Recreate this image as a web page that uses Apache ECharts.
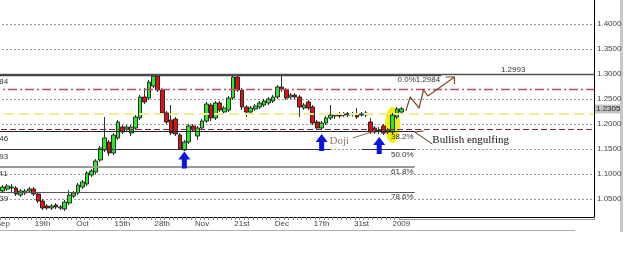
<!DOCTYPE html>
<html>
<head>
<meta charset="utf-8">
<script src="https://cdn.jsdelivr.net/npm/echarts@6/dist/echarts.min.js"></script>
<style>
  html, body { margin: 0; padding: 0; background: #fff; }
  #chart { width: 625px; height: 253px; }
</style>
</head>
<body>
<div id="chart"></div>
<script>
// daily candles, first one sits on category 6
const categoryCount = 140
const firstCandle = 6
const dateLabels = ['Sep', '19th', 'Oct', '15th', '28th', 'Nov', '21st', 'Dec', '17th', '31st', '2009']

const opens = [1.066, 1.070, 1.072, 1.072, 1.058, 1.062, 1.066, 1.070, 1.060, 1.046, 1.036, 1.032, 1.038, 1.032, 1.030, 1.042, 1.056, 1.062, 1.074, 1.080, 1.098, 1.104, 1.128, 1.148, 1.164, 1.142, 1.172, 1.194, 1.190, 1.182, 1.192, 1.212, 1.254, 1.252, 1.276, 1.296, 1.268, 1.222, 1.208, 1.210, 1.178, 1.148, 1.164, 1.196, 1.176, 1.192, 1.206, 1.238, 1.212, 1.242, 1.224, 1.228, 1.252, 1.294, 1.268, 1.234, 1.224, 1.230, 1.234, 1.238, 1.242, 1.246, 1.254, 1.274, 1.268, 1.254, 1.258, 1.254, 1.232, 1.244, 1.234, 1.204, 1.192, 1.202, 1.212, 1.216, 1.220, 1.218, 1.218, 1.219, 1.220, 1.218, 1.222, 1.204, 1.192, 1.186, 1.196, 1.184, 1.184, 1.214, 1.224]
const closes = [1.074, 1.076, 1.074, 1.060, 1.066, 1.066, 1.070, 1.060, 1.046, 1.032, 1.032, 1.036, 1.034, 1.034, 1.044, 1.058, 1.062, 1.078, 1.084, 1.102, 1.106, 1.126, 1.152, 1.172, 1.142, 1.178, 1.204, 1.184, 1.194, 1.194, 1.214, 1.254, 1.244, 1.284, 1.296, 1.268, 1.222, 1.204, 1.182, 1.180, 1.150, 1.164, 1.196, 1.188, 1.192, 1.206, 1.240, 1.212, 1.242, 1.228, 1.232, 1.252, 1.294, 1.268, 1.234, 1.224, 1.232, 1.236, 1.242, 1.246, 1.250, 1.254, 1.274, 1.270, 1.252, 1.258, 1.254, 1.234, 1.238, 1.232, 1.202, 1.192, 1.202, 1.212, 1.218, 1.218, 1.216, 1.220, 1.221, 1.221, 1.214, 1.220, 1.218, 1.184, 1.184, 1.188, 1.182, 1.188, 1.218, 1.230, 1.2305]
const lows = [1.062, 1.066, 1.064, 1.056, 1.054, 1.058, 1.062, 1.056, 1.042, 1.028, 1.028, 1.028, 1.030, 1.028, 1.026, 1.038, 1.052, 1.058, 1.070, 1.076, 1.094, 1.100, 1.124, 1.144, 1.136, 1.138, 1.168, 1.180, 1.186, 1.176, 1.188, 1.208, 1.240, 1.248, 1.272, 1.264, 1.218, 1.200, 1.178, 1.176, 1.148, 1.146, 1.160, 1.184, 1.168, 1.188, 1.202, 1.206, 1.208, 1.224, 1.220, 1.224, 1.248, 1.264, 1.228, 1.214, 1.220, 1.226, 1.230, 1.234, 1.238, 1.242, 1.250, 1.264, 1.248, 1.250, 1.250, 1.214, 1.228, 1.228, 1.198, 1.188, 1.188, 1.198, 1.208, 1.210, 1.212, 1.214, 1.214, 1.215, 1.210, 1.215, 1.214, 1.180, 1.180, 1.180, 1.178, 1.180, 1.180, 1.210, 1.222]
const highs = [1.078, 1.080, 1.080, 1.076, 1.070, 1.070, 1.074, 1.074, 1.064, 1.050, 1.040, 1.040, 1.042, 1.038, 1.048, 1.068, 1.066, 1.082, 1.088, 1.106, 1.110, 1.130, 1.156, 1.214, 1.168, 1.182, 1.208, 1.198, 1.198, 1.198, 1.218, 1.258, 1.272, 1.288, 1.298, 1.2984, 1.272, 1.226, 1.238, 1.214, 1.182, 1.168, 1.200, 1.200, 1.196, 1.210, 1.244, 1.242, 1.246, 1.246, 1.236, 1.256, 1.296, 1.296, 1.272, 1.238, 1.236, 1.240, 1.246, 1.250, 1.254, 1.258, 1.278, 1.2993, 1.272, 1.262, 1.262, 1.258, 1.242, 1.248, 1.238, 1.208, 1.206, 1.216, 1.238, 1.222, 1.224, 1.224, 1.224, 1.224, 1.232, 1.224, 1.226, 1.212, 1.196, 1.194, 1.200, 1.192, 1.222, 1.234, 1.234]

const priceTicks = [1.05, 1.10, 1.15, 1.20, 1.25, 1.30, 1.35, 1.40]
const fibNames = ['0.0%', '38.2%', '50.0%', '61.8%', '78.6%']
const fibLevels = [1.2984, 1.1846, 1.1493, 1.1141, 1.0639]
const topHigh = 1.2993
const lastPrice = 1.2305
const yellowLevel = 1.2226
const dashDotLevel = 1.2746
const redDashLevel = 1.194

// [category, price] for the blue arrows under the lows
const arrowSpots = [[47, 1.128], [78, 1.163], [91, 1.157]]

const categories = Array.from({ length: categoryCount }, (_, i) => 'c' + i)
const candles = opens.map((o, k) => [o, closes[k], lows[k], highs[k]])
const seriesData = Array(firstCandle).fill('-').concat(candles)

const isLabelIndex = (i) => i >= firstCandle && (i - firstCandle) % 9 === 0 && (i - firstCandle) / 9 < dateLabels.length

const fibStart = 1
const fibEnd = 99
const fibColors = ['#444', '#222', '#333', '#9a9a9a', '#555']
const fibWidths = [1.4, 1, 1, 2, 1]
const clear = 'rgba(255,255,255,0)'

const labelFont = { fontFamily: 'Liberation Sans', fontSize: 8, color: '#333' }

const markLines = [
  { yAxis: topHigh, lineStyle: { color: '#555', type: 'solid', width: 1.4 } },
  { yAxis: dashDotLevel, lineStyle: { color: '#c04a6c', type: [9, 3, 2, 3], width: 1.3 } },
  { yAxis: yellowLevel, lineStyle: { color: '#eeee90', type: [10, 5], width: 1.8 } },
  { yAxis: redDashLevel, lineStyle: { color: '#7a2040', type: [6, 3], width: 1 } },
  {
    yAxis: lastPrice,
    lineStyle: { color: clear, width: 0.1 },
    label: {
      show: true, position: 'end', distance: 1, formatter: lastPrice.toFixed(4),
      backgroundColor: '#c4c4c4', padding: [1, 1, 0, 1], ...labelFont, color: '#222'
    }
  }
]

fibLevels.forEach((lv, k) => {
  const style = { color: fibColors[k], type: 'solid', width: fibWidths[k] }
  const text = k === 0 ? fibNames[k] + lv.toFixed(4) : fibNames[k]
  const end = k === 0 ? 105 : fibEnd
  if (k === 2) {
    markLines.push([{ coord: [fibStart, lv], lineStyle: style }, { coord: [80, lv] }])
    markLines.push([{ coord: [87, lv], lineStyle: style, label: { show: true, position: 'insideEndBottom', distance: 1, formatter: text, ...labelFont } }, { coord: [end, lv] }])
  } else {
    markLines.push([{ coord: [fibStart, lv], lineStyle: style, label: { show: true, position: 'insideEndBottom', distance: 1, formatter: text, ...labelFont } }, { coord: [end, lv] }])
  }
  // price label at the left end, mostly off screen
  markLines.push([{ coord: [fibStart, lv], lineStyle: { color: clear, width: 0.1 }, label: { show: true, position: 'insideStartBottom', distance: 3, formatter: lv.toFixed(4), ...labelFont } }, { coord: [end, lv] }])
})

const chart = echarts.init(document.getElementById('chart'), null, { renderer: 'canvas' })

chart.setOption({
  animation: false,
  backgroundColor: '#fff',
  grid: { left: -26, right: 31, top: 0, bottom: 36, containLabel: false, outerBoundsMode: 'none' },
  xAxis: {
    type: 'category',
    data: categories,
    boundaryGap: true,
    axisLine: { show: true, lineStyle: { color: '#000', width: 1 } },
    axisTick: { show: true, interval: (i) => i >= firstCandle && i <= 96, length: 3, lineStyle: { color: '#8a8a8a' } },
    axisLabel: {
      interval: (i) => isLabelIndex(i),
      formatter: (v, i) => (isLabelIndex(i) ? dateLabels[(i - firstCandle) / 9] : ''),
      ...labelFont, color: '#444', margin: 3
    },
    splitLine: { show: false }
  },
  yAxis: {
    type: 'value',
    position: 'right',
    min: 1.014,
    max: 1.448,
    axisLine: { show: true, lineStyle: { color: '#000', width: 1 } },
    axisTick: { show: false, customValues: priceTicks },
    axisLabel: { customValues: priceTicks, formatter: (v) => v.toFixed(4), ...labelFont, color: '#444', margin: 3 },
    splitLine: { show: true, lineStyle: { color: '#9a9a9a', type: [2, 2], width: 1 } }
  },
  series: [{
    type: 'candlestick',
    data: seriesData,
    barWidth: 4.2,
    itemStyle: {
      color: '#2ee82e',
      color0: '#dd1111',
      borderColor: '#1c1c1c',
      borderColor0: '#1c1c1c',
      borderWidth: 0.9
    },
    markLine: {
      silent: true,
      symbol: ['none', 'none'],
      animation: false,
      label: { show: false },
      data: markLines
    },
    markPoint: {
      silent: true,
      animation: false,
      symbol: 'path://M6,0L12,8L8.5,8L8.5,17L3.5,17L3.5,8L0,8Z',
      symbolSize: [12, 17],
      itemStyle: { color: '#0a14e0' },
      label: { show: false },
      data: arrowSpots.map((p) => ({ coord: p }))
    }
  }]
})

// annotations drawn by hand on the picture, placed through the axes
const px = (i, v) => chart.convertToPixel({ gridIndex: 0 }, [i, v])
const zigzag = [[96.8, 1.226], [98.4, 1.254], [100.0, 1.232], [100.9, 1.268], [101.6, 1.256], [107.5, 1.294]]
const zigHead = [[105.7, 1.294], [107.5, 1.294], [107.5, 1.280]]
const dojiPointer = [[84.6, 1.172], [90.2, 1.186]]
const bullPointer = [[101.3, 1.186], [98.9, 1.184], [102.6, 1.160]]
const ellipseAt = [94.4, 1.198]
const brown = '#7a4a1c'

const ec = px(ellipseAt[0], ellipseAt[1])
const dojiText = px(82.0, 1.166)
const bullText = px(103.0, 1.168)
const highText = px(124.3, topHigh)

chart.setOption({
  graphic: [
    { type: 'ellipse', z: 1, silent: true, shape: { cx: ec[0], cy: ec[1], rx: 7.5, ry: 18 }, style: { fill: '#f0ee10' } },
    { type: 'polyline', z: 10, silent: true, shape: { points: zigzag.map((p) => px(p[0], p[1])) }, style: { stroke: brown, lineWidth: 1.2, fill: null } },
    { type: 'polyline', z: 10, silent: true, shape: { points: zigHead.map((p) => px(p[0], p[1])) }, style: { stroke: brown, lineWidth: 1.2, fill: null } },
    { type: 'polyline', z: 10, silent: true, shape: { points: dojiPointer.map((p) => px(p[0], p[1])) }, style: { stroke: '#8a6a4a', lineWidth: 1, fill: null } },
    { type: 'polyline', z: 10, silent: true, shape: { points: bullPointer.map((p) => px(p[0], p[1])) }, style: { stroke: '#4a3018', lineWidth: 1, fill: null } },
    { type: 'text', z: 10, silent: true, x: dojiText[0], y: dojiText[1], style: { text: 'Doji', fill: '#8a7a68', font: '11px "Liberation Serif"', align: 'center', verticalAlign: 'middle' } },
    { type: 'text', z: 10, silent: true, x: bullText[0], y: bullText[1], style: { text: 'Bullish engulfing', fill: '#111', font: '11px "Liberation Serif"', align: 'left', verticalAlign: 'middle' } },
    { type: 'text', z: 10, silent: true, x: highText[0], y: highText[1] - 1, style: { text: topHigh.toFixed(4), fill: '#333', font: '8px "Liberation Sans"', align: 'right', verticalAlign: 'bottom' } },
    // window chrome around the plot
    { type: 'line', silent: true, shape: { x1: 400, y1: 219.5, x2: 594, y2: 219.5 }, style: { stroke: '#9a9a9a', lineWidth: 1 } },
    { type: 'line', silent: true, shape: { x1: 0, y1: 230.5, x2: 575, y2: 230.5 }, style: { stroke: '#b0b0b0', lineWidth: 1 } },
    { type: 'rect', silent: true, shape: { x: 620, y: 0, width: 3, height: 232 }, style: { fill: '#c8c8c8' } }
  ]
})
</script>
</body>
</html>
